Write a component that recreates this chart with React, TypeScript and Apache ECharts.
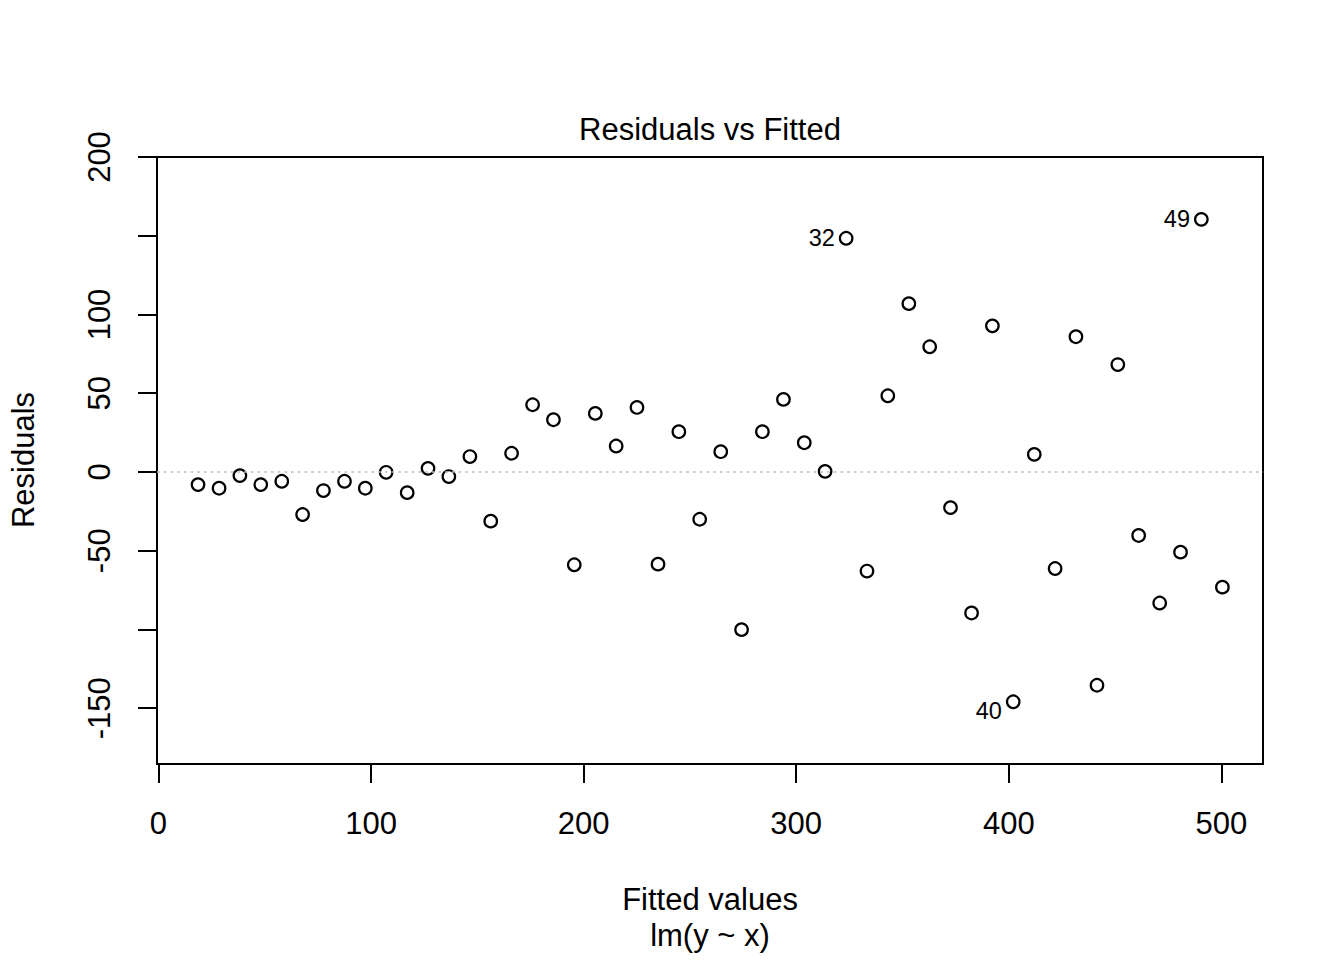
import React, { useEffect, useRef } from "react";
import * as echarts from "echarts";

const fittedValues = [
  18.6, 28.5, 38.3, 48.1, 58.0, 67.8, 77.6, 87.5, 97.3, 107.1,
  117.0, 126.8, 136.6, 146.5, 156.3, 166.1, 176.0, 185.8, 195.6, 205.5,
  215.3, 225.1, 235.0, 244.8, 254.6, 264.5, 274.3, 284.1, 294.0, 303.8,
  313.6, 323.5, 333.3, 343.1, 353.0, 362.8, 372.6, 382.5, 392.3, 402.1,
  412.0, 421.8, 431.6, 441.5, 451.3, 461.1, 471.0, 480.8, 490.6, 500.5,
];

const residuals = [
  -8.0, -10.3, -2.3, -8.0, -5.9, -27.0, -11.8, -5.9, -10.3, -0.2,
  -13.1, 2.3, -2.9, 9.8, -31.2, 11.9, 42.7, 33.2, -58.9, 37.2,
  16.5, 41.0, -58.5, 25.6, -30.0, 12.9, -100.1, 25.6, 46.1, 18.6,
  0.4, 148.4, -62.9, 48.4, 106.9, 79.5, -22.6, -89.5, 92.8, -145.9,
  11.2, -61.3, 85.9, -135.4, 68.2, -40.3, -83.2, -50.9, 160.4, -73.1,
];

const labeledIds = [32, 40, 49];
const xTicks = [0, 100, 200, 300, 400, 500];
const yTicks = [-150, -100, -50, 0, 50, 100, 150, 200];
const yTickLabels = [-150, -50, 0, 50, 100, 200];

const titleText = "Residuals vs Fitted";
const xLabelText = "Fitted values";
const subLabelText = "lm(y ~ x)";
const yLabelText = "Residuals";

export default function App() {
  const ref = useRef<HTMLDivElement>(null);

  useEffect(() => {
    if (!ref.current) return;
    const chart = echarts.init(ref.current, null, { renderer: "svg" });
    const fontFamily = "'Liberation Sans', Arial, sans-serif";

    const data = fittedValues.map((x, i) => {
      const id = i + 1;
      const item: any = { value: [x, residuals[i]] };
      if (labeledIds.includes(id)) {
        item.label = {
          show: true,
          formatter: String(id),
          position: "left",
          distance: 4,
          fontSize: 23.5,
          color: "#000",
          fontFamily,
          offset: residuals[i] < 0 ? [0, 9] : [0, 0],
        };
      }
      return item;
    });

    const textEl = (text: string, x: number, y: number, rotation = 0) => ({
      type: "text",
      x,
      y,
      rotation,
      silent: true,
      style: {
        text,
        fontSize: 31,
        fontFamily,
        fill: "#000",
        align: "center",
        verticalAlign: "middle",
        textAlign: "center",
        textVerticalAlign: "middle",
      },
    });

    chart.setOption({
      animation: false,
      backgroundColor: "#ffffff",
      grid: {
        left: 157,
        top: 157,
        width: 1106,
        height: 607,
        show: true,
        borderColor: "#000",
        borderWidth: 2,
        backgroundColor: "transparent",
      },
      xAxis: {
        type: "value",
        min: -0.7,
        max: 519.6,
        splitLine: { show: false },
        axisLine: { show: false, onZero: false },
        axisTick: {
          show: true,
          length: 19,
          customValues: xTicks,
          lineStyle: { color: "#000", width: 2 },
        },
        axisLabel: {
          customValues: xTicks,
          margin: 43.5,
          fontSize: 31,
          color: "#000",
          fontFamily,
        },
      },
      yAxis: {
        type: "value",
        min: -185.4,
        max: 200,
        splitLine: { show: false },
        axisLine: { show: false, onZero: false },
        axisTick: {
          show: true,
          length: 19,
          customValues: yTicks,
          lineStyle: { color: "#000", width: 2 },
        },
        axisLabel: {
          customValues: yTickLabels,
          rotate: 90,
          margin: 42,
          fontSize: 31,
          color: "#000",
          fontFamily,
        },
      },
      series: [
        {
          type: "scatter",
          data,
          symbol: "circle",
          symbolSize: 12.5,
          itemStyle: {
            color: "rgba(255,255,255,0)",
            borderColor: "#000",
            borderWidth: 2.2,
            opacity: 1,
          },
          emphasis: { disabled: true },
          markLine: {
            silent: true,
            symbol: ["none", "none"],
            label: { show: false },
            lineStyle: { color: "#BEBEBE", type: [2.7, 4], width: 1.5 },
            data: [{ yAxis: 0 }],
          },
        },
      ],
      graphic: [
        textEl(titleText, 710, 129.5),
        textEl(xLabelText, 710, 899.5),
        textEl(subLabelText, 710, 935.5),
        textEl(yLabelText, 23.9, 460, Math.PI / 2),
      ],
    });

    return () => {
      chart.dispose();
    };
  }, []);

  return (
    <div
      ref={ref}
      style={{ position: "fixed", left: 0, top: 0, width: 1344, height: 960, background: "#fff" }}
    />
  );
}
